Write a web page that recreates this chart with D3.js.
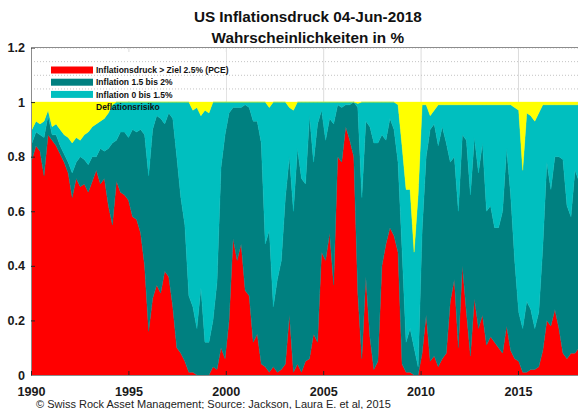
<!DOCTYPE html>
<html>
<head>
<meta charset="utf-8">
<script src="https://cdn.jsdelivr.net/npm/d3@7"></script>
<style>
  body { margin: 0; background: #fff; }
  svg { display: block; font-family: "Liberation Sans", Arial, Helvetica, sans-serif; }
</style>
</head>
<body>
<svg id="chart" width="578" height="409"></svg>
<script>
// series (one value every ~2.5 months)
var seriesKeys = ['red', 'dark', 'cyan', 'yellow'];
var seriesNames = ['Inflationsdruck > Ziel 2.5% (PCE)', 'Inflation 1.5 bis 2%', 'Inflation 0 bis 1.5%', 'Deflationsrisiko'];
var yearTicks = [1990, 1995, 2000, 2005, 2010, 2015];
var probTicks = [0, 0.2, 0.4, 0.6, 0.8, 1, 1.2];
var startYear = 1990.05, stepYears = 0.2065;

var pRed = [.79,.84,.82,.73,.88,.86,.84,.81,.78,.74,.65,.72,.69,.70,.67,.71,.75,.70,.72,.62,
  .55,.71,.67,.66,.64,.58,.57,.52,.40,.16,.28,.33,.30,.38,.36,.25,.10,.08,.05,.01,
  .01,0,0,0,0,.03,.02,.10,.06,.20,.50,.42,.48,.31,.29,.12,.15,.04,.03,.01,
  .03,.01,.02,.04,.22,.01,.04,.01,.05,.06,.15,.12,.45,.42,.52,.33,.80,.78,.91,.86,
  .80,.30,.06,.36,.14,.02,.05,.40,.48,.54,.51,.45,.04,.01,.01,0,0,.08,.22,.05,
  .07,.03,.06,.08,.27,.35,.10,.40,.23,.07,.28,.17,.22,.11,.14,.12,.10,.08,.18,.09,
  .06,.05,.01,.01,.02,.02,.03,.09,.20,.18,.24,.17,.08,.06,.08,.08,.10];
var pDark = [.06,.05,.06,.14,.07,.02,.04,.03,.03,.04,.09,.06,.11,.09,.10,.09,.05,.13,.10,.21,
  .30,.15,.22,.23,.23,.32,.32,.38,.48,.57,.62,.62,.64,.54,.60,.69,.70,.57,.50,.28,
  .24,.17,.32,.12,.12,.17,.32,.66,.82,.76,.48,.56,.50,.68,.69,.81,.78,.81,.45,.52,
  .22,.34,.40,.61,.58,.59,.79,.71,.65,.89,.63,.80,.52,.44,.42,.59,.19,.20,.08,.13,
  .20,.68,.59,.57,.77,.83,.80,.48,.38,.40,.39,.33,.42,.11,.16,.10,.03,.45,.58,.85,
  .85,.81,.85,.77,.51,.45,.50,.48,.63,.59,.59,.57,.63,.49,.48,.42,.44,.52,.65,.57,
  .36,.18,.16,.26,.22,.15,.20,.38,.58,.50,.56,.63,.71,.56,.50,.67,.61];
var pCyan = [.05,.04,.04,.06,.02,.03,.04,.06,.07,.09,.11,.09,.06,.09,.12,.11,.12,.10,.12,.13,
  .14,.14,.11,.11,.13,.10,.11,.10,.12,.27,.10,.05,.06,.08,.04,.06,.20,.35,.45,.71,
  .72,.81,.63,.85,.84,.80,.66,.24,.12,.04,.02,.02,.02,.01,.02,.07,.07,.15,.52,.45,
  .75,.65,.58,.35,.18,.37,.17,.28,.30,.05,.22,.08,.03,.14,.06,.08,.01,.02,.01,.01,
  0,.015,.35,.07,.09,.15,.15,.12,.14,.06,.10,.21,.38,.56,.51,.35,.63,.46,.19,.05,
  .05,.15,.08,.14,.21,.19,.39,.11,.13,.33,.12,.25,.14,.39,.37,.45,.45,.39,.16,.33,
  .56,.74,.58,.69,.71,.76,.73,.52,.21,.31,.19,.19,.20,.37,.41,.24,.28];
var pYellow = [.10,.07,.08,.07,.03,.09,.08,.10,.12,.13,.15,.13,.14,.12,.11,.09,.08,.07,.06,.04,
  .01,0,0,0,0,0,0,0,0,0,0,0,0,0,0,0,0,0,0,0,
  .03,.02,.05,.03,.04,0,0,0,0,0,0,0,0,0,0,0,0,0,0,.02,
  0,0,0,0,.02,.03,0,0,0,0,0,0,0,0,0,0,0,0,0,0,
  0,.005,0,0,0,0,0,0,0,0,0,.01,.16,.32,.32,.55,.34,.01,.01,.05,
  .03,.01,.01,.01,.01,.01,.01,.01,.01,.01,.01,.01,.01,.01,.01,.01,.01,.01,.01,.01,
  .02,.03,.25,.04,.05,.07,.04,.01,.01,.01,.01,.01,.01,.01,.01,.01,.01];

var rows = pRed.map(function(v, i) {
  return { date: startYear + i * stepYears, red: v, dark: pDark[i], cyan: pCyan[i], yellow: pYellow[i] };
});

var colors = { red: '#ff0000', dark: '#008080', cyan: '#00bfbf', yellow: '#ffff00' };

var plotLeft = 31, plotRight = 584.6, plotTop = 47.5, plotBottom = 375;

var x = d3.scaleLinear().domain([1990, 2018.42]).range([plotLeft, plotRight]);
var y = d3.scaleLinear().domain([0, 1.2]).range([plotBottom, plotTop]);

var svg = d3.select('#chart');

svg.append('defs').append('clipPath').attr('id', 'plot')
  .append('rect').attr('x', plotLeft).attr('y', plotTop)
  .attr('width', plotRight - plotLeft).attr('height', plotBottom - plotTop);

// major vertical grid
svg.append('g')
  .attr('transform', 'translate(0,' + plotBottom + ')')
  .call(d3.axisBottom(x).tickValues(yearTicks.slice(1)).tickSize(-(plotBottom - plotTop)).tickFormat(''))
  .call(function(g) {
    g.select('.domain').remove();
    g.selectAll('line').attr('stroke', '#dcdcdc');
  });

// legend background
svg.append('rect')
  .attr('x', 36).attr('y', 52).attr('width', 190).attr('height', 49)
  .attr('fill', '#fff');

// minor dotted grid
svg.append('g')
  .attr('transform', 'translate(' + plotLeft + ',0)')
  .call(d3.axisLeft(y).tickValues(y.ticks(24)).tickSize(-(plotRight - plotLeft)).tickFormat(''))
  .call(function(g) {
    g.select('.domain').remove();
    g.selectAll('line').attr('stroke', '#c4c4c4').attr('stroke-dasharray', '1,2');
  });

// stacked areas
var stack = d3.stack().keys(seriesKeys);
var area = d3.area()
  .x(function(d) { return x(d.data.date); })
  .y0(function(d) { return y(d[0]); })
  .y1(function(d) { return y(d[1]); });

svg.append('g').attr('clip-path', 'url(#plot)')
  .selectAll('path')
  .data(stack(rows))
  .enter().append('path')
  .attr('fill', function(d) { return colors[d.key]; })
  .attr('stroke', function(d) { return colors[d.key]; })
  .attr('stroke-width', 0.4)
  .attr('d', area);

// axes
function styleAxis(g) {
  g.select('.domain').attr('stroke', '#8c8c8c');
  g.selectAll('.tick line').attr('stroke', '#262626');
  g.selectAll('.tick text')
    .attr('fill', '#1a1a1a')
    .style('font-size', '12.6px')
    .style('font-weight', 'bold');
}

svg.append('g')
  .attr('transform', 'translate(' + plotLeft + ',0)')
  .call(d3.axisLeft(y).tickValues(probTicks).tickSizeInner(-4).tickSizeOuter(0).tickPadding(6).tickFormat(d3.format('~g')))
  .call(styleAxis);

svg.append('g')
  .attr('transform', 'translate(0,' + plotBottom + ')')
  .call(d3.axisBottom(x).tickValues(yearTicks).tickSizeInner(-4).tickSizeOuter(0).tickPadding(12.5).tickFormat(d3.format('d')))
  .call(styleAxis);

svg.append('line')
  .attr('x1', plotLeft).attr('x2', plotRight).attr('y1', plotTop).attr('y2', plotTop)
  .attr('stroke', '#8c8c8c');

// legend
var legend = svg.append('g').attr('transform', 'translate(51,66.5)');
var item = legend.selectAll('g')
  .data(seriesKeys)
  .enter().append('g')
  .attr('transform', function(d, i) { return 'translate(0,' + (i * 12.2) + ')'; });
item.append('rect')
  .attr('width', 42).attr('height', 7)
  .attr('fill', function(d) { return colors[d]; });
item.append('text')
  .attr('x', 45).attr('y', 6.6)
  .style('font-size', '8.5px').style('font-weight', 'bold')
  .attr('fill', '#111')
  .text(function(d, i) { return seriesNames[i]; });

// titles
var cx = (plotLeft + plotRight) / 2;
svg.append('text').attr('x', cx).attr('y', 22).attr('text-anchor', 'middle')
  .style('font-size', '15.3px').style('font-weight', 'bold').attr('fill', '#111')
  .text('US Inflationsdruck 04-Jun-2018');
svg.append('text').attr('x', cx).attr('y', 42.5).attr('text-anchor', 'middle')
  .style('font-size', '15.3px').style('font-weight', 'bold').attr('fill', '#111')
  .text('Wahrscheinlichkeiten in %');

svg.append('text').attr('x', 36).attr('y', 407.5)
  .style('font-size', '11px').attr('fill', '#222')
  .text('\u00a9 Swiss Rock Asset Management; Source: Jackson, Laura E. et al, 2015');
</script>
</body>
</html>
